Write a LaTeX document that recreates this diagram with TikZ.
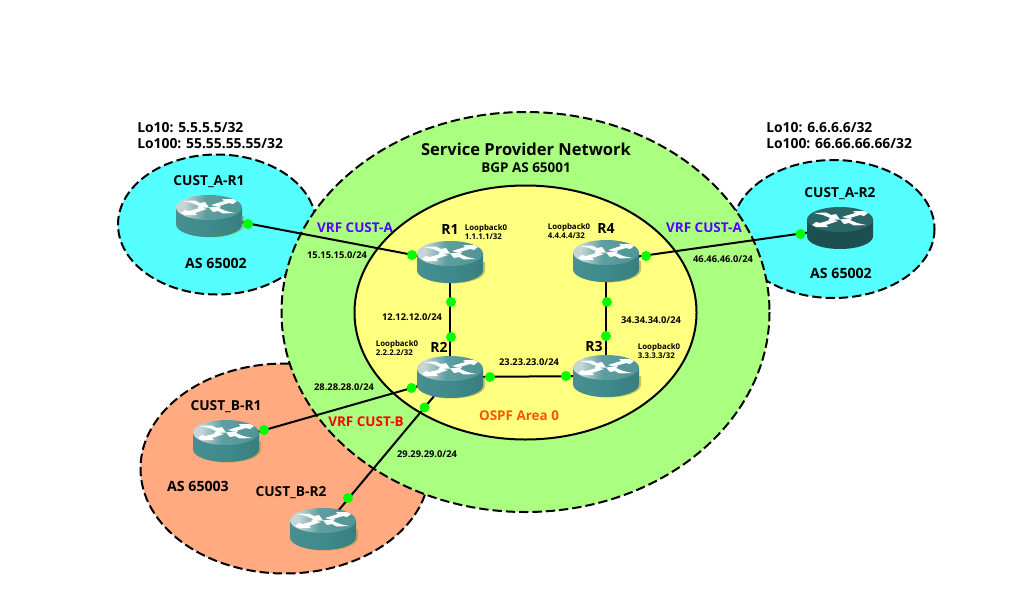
\documentclass[tikz,border=0pt]{standalone}
\usepackage{fontspec}
\setmainfont{Open Sans}
\definecolor{rtopa}{HTML}{C4D6D6}
\definecolor{rtopb}{HTML}{5F9EA0}
\definecolor{rtopc}{HTML}{4A9193}
\definecolor{rbodya}{HTML}{4A9193}
\definecolor{rbodyb}{HTML}{3F8A8C}
\definecolor{rbodyc}{HTML}{357A7C}
\definecolor{dkt}{HTML}{2A6668}
\definecolor{dkb}{HTML}{1D4F50}
\definecolor{cyanz}{HTML}{55FFFF}
\definecolor{greenz}{HTML}{AAFF80}
\definecolor{yellowz}{HTML}{FFFF80}
\definecolor{orangez}{HTML}{FFAA80}
\definecolor{vrfa}{HTML}{5500FF}
\definecolor{ospf}{HTML}{FF5500}
\pgfdeclarehorizontalshading{rtop}{66bp}{color(0bp)=(rtopa); color(14bp)=(rtopa); color(30bp)=(rtopb); color(66bp)=(rtopc)}
\pgfdeclarehorizontalshading{rbody}{66bp}{color(0bp)=(rbodya); color(33bp)=(rbodyb); color(66bp)=(rbodyc)}
\tikzset{
 zone/.style={draw=black,line width=1.5pt,dash pattern=on 7pt off 3pt},
 routerbox/.style={inner sep=0pt,minimum width=49.5pt,minimum height=31.5pt},
 linkline/.style={draw=black,line width=1.5pt},
 ifdot/.style={circle,fill=green,draw=none,inner sep=0pt,minimum size=7.5pt},
 biglab/.style={font=\bfseries\fontsize{12.4}{14}\selectfont,inner sep=0pt},
 midlab/.style={font=\bfseries\fontsize{10.1}{12}\selectfont,inner sep=0pt},
 aslab/.style={font=\bfseries\fontsize{10.6}{12}\selectfont,inner sep=0pt},
 lolab/.style={font=\bfseries\fontsize{10.4}{12}\selectfont,inner sep=0pt,align=left},
 hostlab/.style={font=\bfseries\fontsize{10.3}{12}\selectfont,inner sep=0pt},
 rlab/.style={font=\bfseries\fontsize{10.5}{12}\selectfont,inner sep=0pt},
 netlab/.style={font=\bfseries\fontsize{7}{8}\selectfont,inner sep=0pt},
 looplab/.style={font=\fontsize{5.9}{7.2}\selectfont\bfseries,inner sep=0pt,align=left},
 routerarrows/.pic={
  \fill[white] (-26,-15) -- (-14,-15.5) -- (-9,-13) -- (-4,-14) -- (0,-8.5) -- (-12,-8) -- (-10,-10) -- (-17,-13) -- cycle;
  \fill[white] (24,-17) -- (13,-17) -- (15,-15) -- (2,-11) -- (8,-9.5) -- (20,-13) -- (24,-12) -- (28,-15) -- cycle;
  \fill[white] (-24,-1) -- (-12,-1) -- (-14,-3) -- (-2,-7) -- (-8,-8.5) -- (-20,-5) -- (-24,-6) -- (-28,-3) -- cycle;
  \fill[white] (26,-3) -- (14,-2.5) -- (9,-5) -- (4,-4) -- (0,-8.5) -- (12,-10) -- (10,-8) -- (17,-5) -- cycle;
 },
 routericon/.pic={
  \fill[yellow!55!black,opacity=.55] (-31,0) -- (-31,9) arc[start angle=180,end angle=0,x radius=33,y radius=12.5] -- (35,0) -- cycle;
  \path[shade,shading=rbody] (-33,-8.5) -- (-33,8.5) arc[start angle=180,end angle=0,x radius=33,y radius=12.5] -- (33,-8.5) -- cycle;
  \path[shade,shading=rtop] (0,-8.5) ellipse[x radius=33,y radius=12.5];
  \pic {routerarrows};
 },
 darkicon/.pic={
  \fill[dkb] (-33,-8.5) -- (-33,8.5) arc[start angle=180,end angle=0,x radius=33,y radius=12.5] -- (33,-8.5) -- cycle;
  \fill[dkt] (0,-8.5) ellipse[x radius=33,y radius=12.5];
  \pic {routerarrows};
 },
}
\begin{document}
\begin{tikzpicture}[x=0.75pt,y=-0.75pt]
\useasboundingbox[fill=white] (0,0) rectangle (1030,603);
% zones
\path[zone,fill=cyanz] (217,224.5) ellipse[x radius=99,y radius=70];
\path[zone,fill=cyanz] (833.5,229) ellipse[x radius=101,y radius=69];
\path[zone,fill=orangez] (285,468.5) ellipse[x radius=144.5,y radius=105];
\path[zone,fill=greenz] (525.5,312) ellipse[x radius=244,y radius=200];
\path[draw=black,line width=1.5pt,fill=yellowz] (525.5,312.5) ellipse[x radius=171,y radius=127];
% routers (anchors)
\node[routerbox] (ca1) at (209,216) {};
\node[routerbox] (ca2) at (840,228) {};
\node[routerbox] (cb1) at (226,441) {};
\node[routerbox] (cb2) at (323,529) {};
\node[routerbox] (r1) at (450,262) {};
\node[routerbox] (r2) at (450,377) {};
\node[routerbox] (r3) at (606,376) {};
\node[routerbox] (r4) at (606,261) {};
% links
\draw[linkline] (ca1.center) -- (r1.center);
\draw[linkline] (r4.center) -- (ca2.center);
\draw[linkline] (r1.center) -- (r2.center);
\draw[linkline] (r4.center) -- (r3.center);
\draw[linkline] (r2.center) -- (r3.center);
\draw[linkline] (r2.center) -- (cb1.center);
\draw[linkline] (r2.center) -- (cb2.center);
% icons
\pic at (ca1.center) {routericon};
\pic at (ca2.center) {darkicon};
\pic at (cb1.center) {routericon};
\pic at (cb2.center) {routericon};
\pic at (r1.center) {routericon};
\pic at (r2.center) {routericon};
\pic at (r3.center) {routericon};
\pic at (r4.center) {routericon};
% interface dots
\node[ifdot] (d1) at (248,224) {};
\node[ifdot] (d2) at (412,255) {};
\node[ifdot] (d3) at (646,256) {};
\node[ifdot] (d4) at (800.5,234) {};
\node[ifdot] (d5) at (451,302) {};
\node[ifdot] (d6) at (451,337) {};
\node[ifdot] (d7) at (607,302) {};
\node[ifdot] (d8) at (606,336) {};
\node[ifdot] (d9) at (490,377) {};
\node[ifdot] (d10) at (566,376) {};
\node[ifdot] (d11) at (411.5,388) {};
\node[ifdot] (d12) at (424.5,407.5) {};
\node[ifdot] (d13) at (264,430) {};
\node[ifdot] (d14) at (348,498) {};
% texts
\node[biglab] (t1) at (526,149) {Service Provider Network};
\node[midlab] (t2) at (526,168) {BGP AS 65001};
\node[lolab,anchor=north west] (t3) at (137,122) {Lo10: 5.5.5.5/32\\Lo100: 55.55.55.55/32};
\node[lolab,anchor=north west] (t4) at (766,122) {Lo10: 6.6.6.6/32\\Lo100: 66.66.66.66/32};
\node[hostlab] (t5) at (209,182) {CUST\_A-R1};
\node[hostlab] (t6) at (840,194) {CUST\_A-R2};
\node[hostlab] (t7) at (226,407) {CUST\_B-R1};
\node[hostlab] (t8) at (291,493) {CUST\_B-R2};
\node[aslab] (t9) at (216,263) {AS 65002};
\node[aslab] (t10) at (841,273) {AS 65002};
\node[aslab] (t11) at (198,486) {AS 65003};
\node[midlab,text=vrfa] (t12) at (355,228) {VRF CUST-A};
\node[midlab,text=vrfa] (t13) at (704,228) {VRF CUST-A};
\node[midlab,text=red] (t14) at (366,422) {VRF CUST-B};
\node[midlab,text=ospf] (t15) at (519,416) {OSPF Area 0};
\node[rlab] (t16) at (450,229) {R1};
\node[rlab] (t17) at (439,347) {R2};
\node[rlab] (t18) at (594,346) {R3};
\node[rlab] (t19) at (606,228) {R4};
\node[netlab] (n1) at (337,255) {15.15.15.0/24};
\node[netlab] (n2) at (412,317) {12.12.12.0/24};
\node[netlab] (n3) at (651,320) {34.34.34.0/24};
\node[netlab] (n4) at (529,362) {23.23.23.0/24};
\node[netlab] (n5) at (344,387) {28.28.28.0/24};
\node[netlab] (n6) at (427,454) {29.29.29.0/24};
\node[netlab] (n7) at (723,259) {46.46.46.0/24};
\node[looplab] (l1) at (486,232) {Loopback0\\1.1.1.1/32};
\node[looplab] (l2) at (397,348) {Loopback0\\2.2.2.2/32};
\node[looplab] (l3) at (659,351) {Loopback0\\3.3.3.3/32};
\node[looplab] (l4) at (569,231) {Loopback0\\4.4.4.4/32};
\end{tikzpicture}
\end{document}
